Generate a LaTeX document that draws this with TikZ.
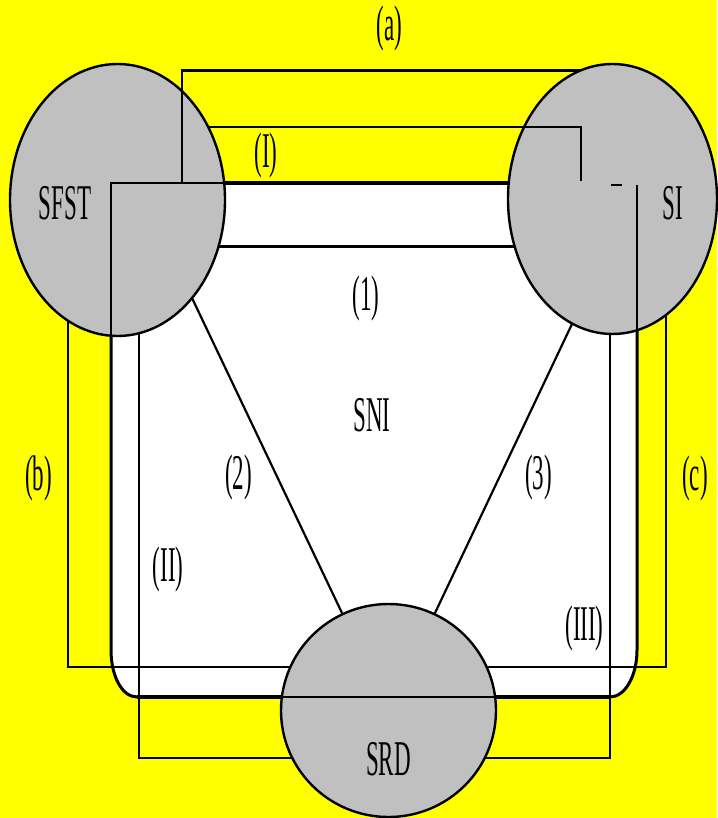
\documentclass[tikz,border=0pt]{standalone}
\usepackage{fontspec}
\setmainfont{Liberation Serif}
\usetikzlibrary{shapes.geometric}
\definecolor{bgyellow}{RGB}{255,255,0}
\definecolor{zonegray}{RGB}{192,192,192}
\newcommand\sqz[1]{\scalebox{0.46}[1]{#1}}

\begin{document}
\begin{tikzpicture}[x=1pt,y=-1pt,
  wire/.style={line width=2.2pt, line join=miter},
  under/.style={wire, shorten <=-8pt, shorten >=-8pt},
  zonebox/.style={ellipse, draw, fill=zonegray, line width=2.4pt, inner sep=0pt},
  lab/.style={inner sep=0pt, font=\fontsize{50}{60}\selectfont}]
\useasboundingbox (0,0) rectangle (717,818);
\fill[bgyellow] (0,0) rectangle (717,818);

% central region SNI
\coordinate (r-tl) at (111,183);
\coordinate (r-tr) at (637,183);
\coordinate (r-br) at (610,697);
\coordinate (r-bl) at (137,697);
\draw[fill=white, line width=3pt] (r-tl) -- (r-tr) -- (637,650)
  .. controls (637,676) and (625,697) .. (r-br) -- (r-bl)
  .. controls (122,697) and (111,676) .. (111,650) -- cycle;
\draw[line width=4.5pt] (r-tl) -- (r-tr);
\draw[line width=4.5pt] (r-bl) -- (r-br);

% connector end points
\coordinate (l1a) at (218,246.5);  \coordinate (l1b) at (515,246.5);
\coordinate (l2a) at (192,298);    \coordinate (l2b) at (342,613);
\coordinate (l3a) at (572,324);    \coordinate (l3b) at (435,613);
\coordinate (b1) at (68,321);  \coordinate (b2) at (68,667);  \coordinate (b3) at (290,667);
\coordinate (c1) at (666,318); \coordinate (c2) at (666,667); \coordinate (c3) at (487,667);
\coordinate (p1) at (139,334); \coordinate (p2) at (139,758); \coordinate (p3) at (292,758);
\coordinate (q1) at (610,333); \coordinate (q2) at (610,758); \coordinate (q3) at (485,758);

% connectors that end beneath the zones
\draw[under] (l1a) -- (l1b);
\draw[under] (l2a) -- (l2b);
\draw[under] (l3a) -- (l3b);
\draw[under] (b1) -- (b2) -- (b3);
\draw[under] (c1) -- (c2) -- (c3);
\draw[under] (p1) -- (p2) -- (p3);
\draw[under] (q1) -- (q2) -- (q3);

% zones
\node[zonebox, minimum width=215pt, minimum height=272pt] (SFST) at (117.5,200) {};
\node[zonebox, minimum width=209pt, minimum height=270pt] (SI) at (612.5,199) {};
\node[zonebox, minimum width=215pt, minimum height=213pt] (SRD) at (388.5,710.5) {};

% outlines seen through the zones
\draw[wire] (111,336) -- (r-tl) -- (224,183);
\draw[wire] (637,185) -- (637,331);
\draw[wire] (611,185) -- (622,185);
\draw[wire] (281,697) -- (496,697);

% connectors (a) and (I)
\coordinate (a1) at (182,183); \coordinate (a2) at (182,70.5); \coordinate (a3) at (581,70.5);
\draw[wire] (a1) -- (a2) -- (a3);
\coordinate (i1) at (208,126.7); \coordinate (i2) at (581,126.7); \coordinate (i3) at (581,181);
\draw[wire] (i1) -- (i2) -- (i3);

% labels
\node[lab] (tSFST) at (65,203.5) {\sqz{SFST}};
\node[lab] (tSI) at (673,203.5) {\sqz{SI}};
\node[lab] (tSRD) at (388.5,759.5) {\sqz{SRD}};
\node[lab] (tSNI) at (372,415) {\sqz{SNI}};
\node[lab] (ta) at (389.5,28.5) {\sqz{(a)}};
\node[lab] (tb) at (38.5,478.5) {\sqz{(b)}};
\node[lab] (tc) at (695,478.5) {\sqz{(c)}};
\node[lab] (t1) at (366,298) {\sqz{(1)}};
\node[lab] (t2) at (238.5,477.5) {\sqz{(2)}};
\node[lab] (t3) at (538.5,477.5) {\sqz{(3)}};
\node[lab] (tI) at (266,155.5) {\sqz{(I)}};
\node[lab] (tII) at (168,569) {\sqz{(II)}};
\node[lab] (tIII) at (584.5,628.5) {\sqz{(III)}};
\end{tikzpicture}
\end{document}
